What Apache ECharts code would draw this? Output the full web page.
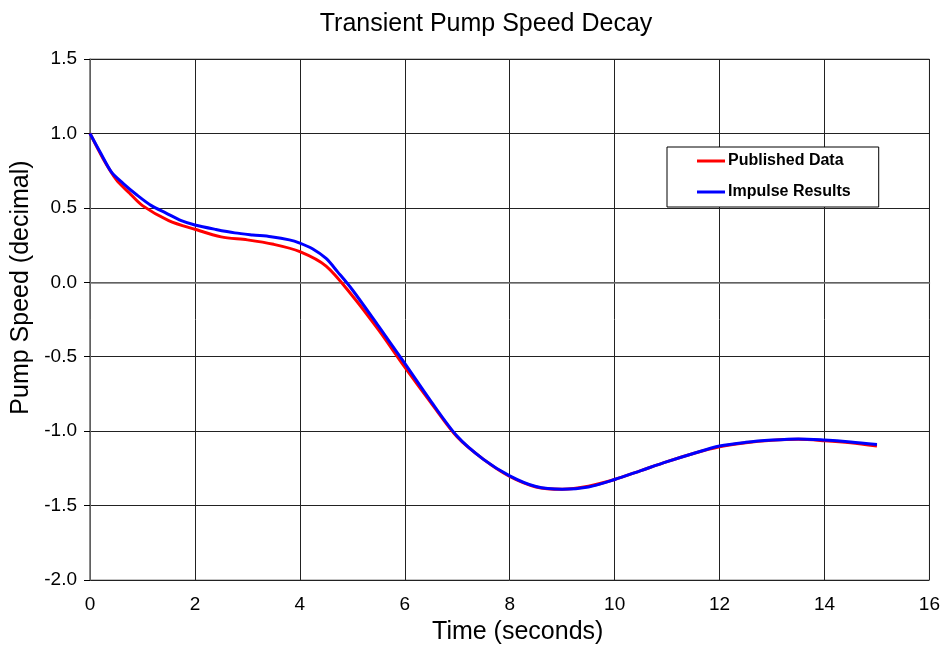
<!DOCTYPE html>
<html>
<head>
<meta charset="utf-8">
<script src="https://cdn.jsdelivr.net/npm/echarts@6/dist/echarts.min.js"></script>
<style>html,body{margin:0;padding:0;background:#fff;}#c{width:943px;height:650px;}</style>
</head>
<body>
<div id="c"></div>
<script>
var publishedT = [0, 0.25, 0.5, 0.75, 1.0, 1.5, 2.0, 2.5, 3.0, 3.5, 4.0, 4.5, 5.0, 5.5, 6.0, 6.5, 7.0, 7.5, 8.0, 8.5, 9.0, 9.5, 10.0, 10.5, 11.0, 11.5, 12.0, 12.5, 13.0, 13.5, 14.0, 14.5, 15.0];
var publishedV = [1.0, 0.83, 0.69, 0.60, 0.515, 0.415, 0.356, 0.305, 0.285, 0.255, 0.206, 0.109, -0.09, -0.32, -0.57, -0.81, -1.04, -1.19, -1.305, -1.375, -1.39, -1.37, -1.325, -1.265, -1.205, -1.15, -1.105, -1.078, -1.062, -1.055, -1.064, -1.078, -1.10];
var impulseT = [0, 0.2, 0.41, 0.63, 0.9, 1.17, 1.45, 1.74, 2.0, 2.4, 2.76, 3.1, 3.45, 3.8, 4.0, 4.24, 4.5, 4.72, 5.0, 5.5, 6.0, 6.46, 7.0, 7.5, 8.0, 8.5, 9.0, 9.5, 10.0, 10.5, 11.0, 11.5, 12.0, 12.5, 13.0, 13.5, 14.0, 14.5, 15.0];
var impulseV = [1.0, 0.87, 0.74, 0.665, 0.585, 0.515, 0.465, 0.414, 0.385, 0.355, 0.332, 0.318, 0.306, 0.285, 0.263, 0.225, 0.16, 0.07, -0.05, -0.295, -0.545, -0.78, -1.035, -1.19, -1.3, -1.372, -1.39, -1.375, -1.325, -1.265, -1.205, -1.15, -1.10, -1.075, -1.06, -1.052, -1.06, -1.073, -1.09];
var xTicks = [0, 2, 4, 6, 8, 10, 12, 14, 16];
var yTicks = [-2.0, -1.5, -1.0, -0.5, 0.0, 0.5, 1.0, 1.5];

function pairs(t, v) { return t.map(function (x, i) { return [x, v[i]]; }); }

var chart = echarts.init(document.getElementById('c'), null, {renderer: 'canvas'});
var FF = 'Liberation Sans, Arial, sans-serif';
chart.setOption({
  animation: false,
  backgroundColor: '#fff',
  title: {
    text: 'Transient Pump Speed Decay',
    left: 481, top: 7, textAlign: 'center',
    textStyle: {fontFamily: FF, fontSize: 25, fontWeight: 'normal', color: '#000'}
  },
  legend: {
    orient: 'vertical',
    left: 667, top: 147,
    padding: [6, 28, 7, 30],
    itemGap: 15,
    itemWidth: 28, itemHeight: 16,
    backgroundColor: '#fff',
    borderColor: '#000', borderWidth: 1,
    textStyle: {fontFamily: FF, fontSize: 16, fontWeight: 'bold', color: '#000', padding: [0, 0, 0, -2]},
    data: [
      {name: 'Published Data', icon: 'path://M0,6.5 L28,6.5 L28,9.5 L0,9.5 Z'},
      {name: 'Impulse Results', icon: 'path://M0,6.5 L28,6.5 L28,9.5 L0,9.5 Z'}
    ]
  },
  grid: {left: 90, right: 11, top: 59, bottom: 70, containLabel: false,
         show: true, borderColor: '#888', borderWidth: 1},
  xAxis: {
    type: 'value', min: xTicks[0], max: xTicks[xTicks.length - 1], interval: 2,
    name: 'Time (seconds)', nameLocation: 'middle', nameGap: 40,
    nameTextStyle: {fontFamily: FF, fontSize: 25, color: '#000', padding: [0, 0, 0, 16]},
    axisLine: {show: true, lineStyle: {color: '#777', width: 1.5}},
    axisTick: {show: false},
    axisLabel: {fontFamily: FF, fontSize: 19, color: '#000', margin: 15},
    splitLine: {show: true, lineStyle: {color: '#222', width: 1}}
  },
  yAxis: {
    type: 'value', min: yTicks[0], max: yTicks[yTicks.length - 1], interval: 0.5,
    name: 'Pump Speed (decimal)', nameLocation: 'middle', nameGap: 56, nameRotate: 90,
    nameTextStyle: {fontFamily: FF, fontSize: 25, color: '#000', padding: [0, 0, 0, 64]},
    axisLine: {show: true, lineStyle: {color: '#777', width: 1.5}},
    axisTick: {show: true, inside: false, length: 6, lineStyle: {color: '#000'}},
    axisLabel: {fontFamily: FF, fontSize: 19, color: '#000', margin: 13,
                formatter: function (v) { return v.toFixed(1); }},
    splitLine: {show: true, lineStyle: {color: '#222', width: 1}}
  },
  series: [
    {name: 'Published Data', type: 'line', data: pairs(publishedT, publishedV),
     showSymbol: false, smooth: 0.3, color: '#ff0000', lineStyle: {width: 3, color: '#ff0000'}, z: 2},
    {name: 'Impulse Results', type: 'line', data: pairs(impulseT, impulseV),
     showSymbol: false, smooth: 0.3, color: '#0000ff', lineStyle: {width: 3, color: '#0000ff'}, z: 3}
  ]
});
</script>
</body>
</html>
